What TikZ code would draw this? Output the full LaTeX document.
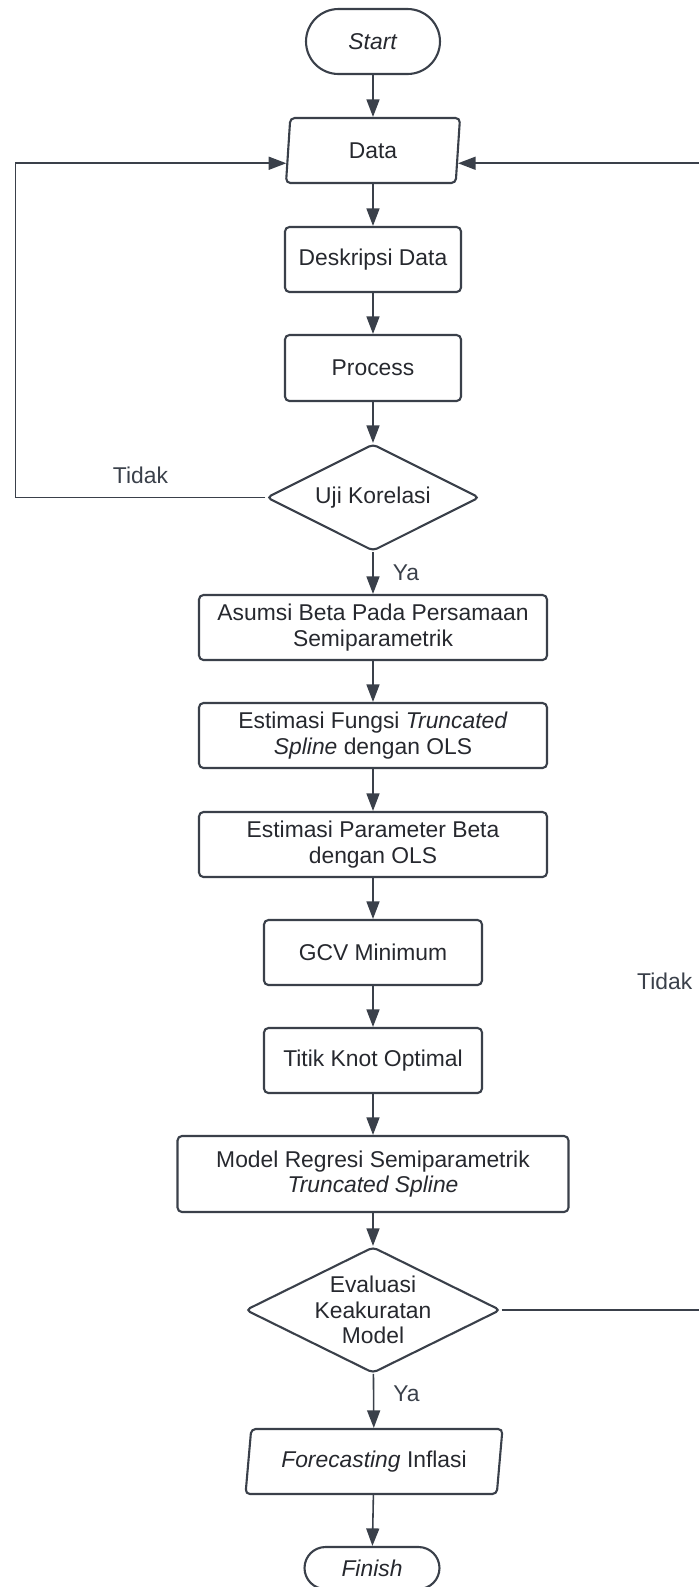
\documentclass[tikz,border=0pt]{standalone}
\usepackage{fontspec}
\setmainfont{Liberation Sans}
\usepackage{xcolor}
\usepackage{tikz}
\usetikzlibrary{arrows.meta, shapes.geometric, shapes.misc, calc}

\definecolor{ink}{RGB}{58,64,74}
\definecolor{txt}{RGB}{38,40,46}

\begin{document}
\begin{tikzpicture}[>={Triangle[length=10pt,width=7.4pt]}, x=0.02cm, y=-0.02cm,
    every node/.style={font=\fontsize{13}{14.5}\selectfont, text=txt},
    box/.style={draw=ink, line width=1.2pt, rounded corners=2.5pt, align=center, inner sep=0pt},
    term/.style={draw=ink, line width=1.2pt, rounded rectangle, inner sep=0pt},
    io/.style={draw=ink, line width=1.2pt, trapezium, trapezium left angle=75, trapezium right angle=105,
        trapezium stretches body, rounded corners=2.5pt, minimum height=1.3cm, inner sep=0pt},
    dec/.style={draw=ink, line width=1.2pt, diamond, aspect=2, rounded corners=2.5pt, align=center, inner sep=0pt},
    flow/.style={->, draw=ink, line width=0.9pt},
    lbl/.style={text=ink, inner sep=0pt}]

    \useasboundingbox (0,0) rectangle (699,1587);
    \clip (0,0) rectangle (699,1587);

    % ==========================================
    % Nodes
    % ==========================================
    \node[term, minimum width=2.68cm, minimum height=1.3cm] (start) at (373,41.5) {\textit{Start}};
    \node[io, minimum width=3.48cm] (data) at (373,150.5) {Data};
    \node[box, minimum width=3.52cm, minimum height=1.3cm] (desc) at (373,259.5) {Deskripsi Data};
    \node[box, minimum width=3.52cm, minimum height=1.32cm] (proc) at (373,368) {Process};
    \node[dec, minimum width=4.26cm, minimum height=2.14cm] (uji) at (373,497.5) {Uji Korelasi};
    \node[box, minimum width=6.96cm, minimum height=1.3cm] (asumsi) at (373,627.5) {Asumsi Beta Pada Persamaan\\Semiparametrik};
    \node[box, minimum width=6.96cm, minimum height=1.3cm] (fungsi) at (373,735.5) {Estimasi Fungsi \textit{Truncated}\\\textit{Spline} dengan OLS};
    \node[box, minimum width=6.96cm, minimum height=1.3cm] (param) at (373,844.5) {Estimasi Parameter Beta\\dengan OLS};
    \node[box, minimum width=4.36cm, minimum height=1.3cm] (gcv) at (373,952.5) {GCV Minimum};
    \node[box, minimum width=4.36cm, minimum height=1.3cm] (knot) at (373,1060.5) {Titik Knot Optimal};
    \node[box, minimum width=7.82cm, minimum height=1.52cm] (model) at (373,1174) {Model Regresi Semiparametrik\\\textit{Truncated Spline}};
    \node[dec, minimum width=5.1cm, minimum height=2.52cm] (eval) at (373,1310) {Evaluasi\\Keakuratan\\Model};
    \node[io, minimum width=5.14cm] (fore) at (374,1461.5) {\textit{Forecasting} Inflasi};
    \node[term, minimum width=2.7cm, minimum height=0.84cm] (finish) at (372,1568) {\textit{Finish}};

    % ==========================================
    % Main flow
    % ==========================================
    \draw[flow] (start) -- (data);
    \draw[flow] (data) -- (desc);
    \draw[flow] (desc) -- (proc);
    \draw[flow] (proc) -- (uji);
    \draw[flow] (uji) -- node[midway, right=0.38cm, lbl] {Ya} (asumsi);
    \draw[flow] (asumsi) -- (fungsi);
    \draw[flow] (fungsi) -- (param);
    \draw[flow] (param) -- (gcv);
    \draw[flow] (gcv) -- (knot);
    \draw[flow] (knot) -- (model);
    \draw[flow] (model) -- (eval);
    \draw[flow] (eval) -- node[pos=0.36, right=0.38cm, lbl] {Ya} (fore);
    \draw[flow] (fore) -- (finish);

    % ==========================================
    % Loops back to Data
    % ==========================================
    \coordinate (lx) at (15.5,0);
    \coordinate (rx) at (706,0);
    \coordinate (dataL) at ($(data.bottom left corner)!0.31!(data.top left corner)$);
    \coordinate (dataR) at ($(data.bottom right corner)!0.31!(data.top right corner)$);

    \draw[flow] (uji.west) -- node[midway, above=0.26cm, lbl] {Tidak} (lx |- uji.west)
        -- (lx |- dataL) -- (dataL);
    \draw[flow] (eval.east) -- (rx |- eval.east)
        -- node[pos=0.287, left=0.26cm, lbl] {Tidak} (rx |- dataR) -- (dataR);

\end{tikzpicture}
\end{document}
